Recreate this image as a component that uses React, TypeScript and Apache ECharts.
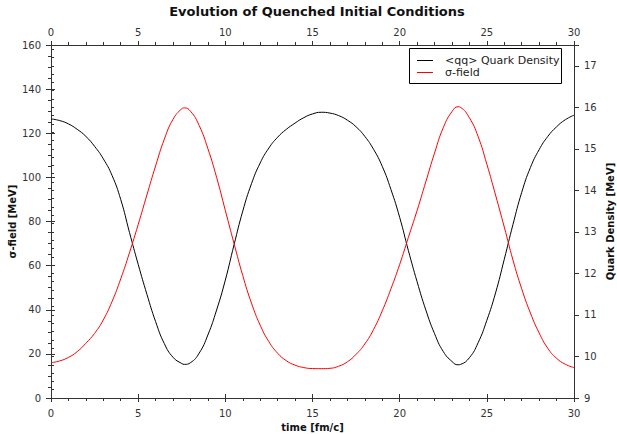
import React, { useEffect, useRef } from 'react';
import * as echarts from 'echarts';

const chartTitle = 'Evolution of Quenched Initial Conditions';
const xName = 'time [fm/c]';
const yLeftName = 'σ-field [MeV]';
const yRightName = 'Quark Density [MeV]';
const seriesNames = ['<qq> Quark Density', 'σ-field'];
const xTicks = [0, 30, 5];
const leftTicks = [0, 160, 20];
const rightTicks = [9, 17.5, 1];

// time samples [fm/c] (every 0.5, plus the turning points at 7.65 and 23.35)
const times = [
  0, 0.5, 1, 1.5, 2, 2.5, 3, 3.5, 4, 4.5,
  5, 5.5, 6, 6.5, 7, 7.5, 7.65, 8, 8.5, 9, 9.5,
  10, 10.5, 11, 11.5, 12, 12.5, 13, 13.5, 14, 14.5,
  15, 15.5, 16, 16.5, 17, 17.5, 18, 18.5, 19, 19.5,
  20, 20.5, 21, 21.5, 22, 22.5, 23, 23.35, 23.5, 24, 24.5,
  25, 25.5, 26, 26.5, 27, 27.5, 28, 28.5, 29, 29.5,
  30,
];

// Quark density (right axis)
const quarkDensity = [
  15.72, 15.68, 15.60, 15.47, 15.30, 15.06, 14.76, 14.36, 13.78, 12.99,
  12.22, 11.50, 10.84, 10.31, 9.98, 9.83, 9.81, 9.85, 10.08, 10.52, 11.12,
  11.84, 12.69, 13.50, 14.16, 14.66, 15.02, 15.28, 15.47, 15.62, 15.75,
  15.84, 15.88, 15.86, 15.80, 15.69, 15.53, 15.30, 14.99, 14.58, 14.02,
  13.35, 12.55, 11.80, 11.12, 10.55, 10.12, 9.88, 9.80, 9.81, 9.97, 10.33,
  10.87, 11.53, 12.34, 13.18, 13.95, 14.55, 14.98, 15.30, 15.53, 15.70,
  15.81,
];

// σ-field (left axis)
const sigmaField = [
  16.0, 16.8, 18.4, 21.0, 24.8, 29.3, 35.4, 43.7, 54.0, 65.8,
  78.6, 92.0, 105.2, 117.3, 126.3, 131.1, 131.5, 130.0, 123.5, 113.0, 100.0,
  85.0, 70.0, 55.5, 43.0, 33.0, 25.5, 20.3, 16.9, 14.9, 13.8,
  13.35, 13.3, 13.45, 14.4, 16.4, 19.8, 24.5, 31.0, 39.5, 49.5,
  60.5, 72.8, 85.0, 98.0, 111.0, 122.5, 129.8, 132.0, 131.7, 127.0, 118.5,
  106.0, 92.0, 77.5, 62.5, 49.5, 38.5, 29.5, 22.5, 18.0, 15.3,
  13.8,
];

const FONT = 'DejaVu Sans';
const AXIS_COLOR = '#333';
const LABEL_COLOR = '#333';

export default function App() {
  const ref = useRef<HTMLDivElement>(null);

  useEffect(() => {
    if (!ref.current) return;
    const chart = echarts.init(ref.current, undefined, { renderer: 'svg' });

    const baseX = {
      type: 'value',
      min: xTicks[0],
      max: xTicks[1],
      interval: xTicks[2],
      splitLine: { show: false },
    };
    const inside = {
      axisLine: { show: false },
      axisLabel: { show: false },
      axisTick: { show: true, inside: true, length: 4, lineStyle: { color: AXIS_COLOR } },
      minorTick: { show: false },
      splitLine: { show: false },
    };
    const labelStyle = { color: LABEL_COLOR, fontFamily: FONT, fontSize: 10 };
    const nameStyle = { color: '#111', fontFamily: FONT, fontSize: 10, fontWeight: 'bold' };

    const option: any = {
      animation: false,
      backgroundColor: '#fff',
      title: {
        text: chartTitle,
        left: 312,
        textAlign: 'center',
        top: 0,
        textStyle: { fontFamily: FONT, fontSize: 13, fontWeight: 'bold', color: '#111' },
      },
      grid: { left: 51, right: 43, top: 45, bottom: 36, containLabel: false, outerBoundsMode: 'none' },
      xAxis: [
        {
          ...baseX,
          position: 'bottom',
          name: xName,
          nameLocation: 'middle',
          nameGap: 24,
          nameMoveOverlap: false,
          nameTextStyle: nameStyle,
          axisLine: { show: true, onZero: false, lineStyle: { color: AXIS_COLOR, width: 1 } },
          axisTick: { show: true, length: 4, lineStyle: { color: AXIS_COLOR } },
          minorTick: { show: true, splitNumber: 5, length: 3, lineStyle: { color: AXIS_COLOR } },
          axisLabel: { ...labelStyle, margin: 10 },
        },
        {
          ...baseX,
          position: 'top',
          axisLine: { show: true, onZero: false, lineStyle: { color: AXIS_COLOR, width: 1 } },
          axisTick: { show: true, length: 4, lineStyle: { color: AXIS_COLOR } },
          minorTick: { show: true, splitNumber: 5, length: 3, lineStyle: { color: AXIS_COLOR } },
          axisLabel: { ...labelStyle, margin: 8 },
        },
        { ...baseX, position: 'bottom', ...inside },
        { ...baseX, position: 'top', ...inside },
      ],
      yAxis: [
        {
          type: 'value',
          position: 'left',
          min: leftTicks[0],
          max: leftTicks[1],
          interval: leftTicks[2],
          name: yLeftName,
          nameLocation: 'middle',
          nameGap: 34,
          nameMoveOverlap: false,
          nameTextStyle: nameStyle,
          axisLine: { show: true, onZero: false, lineStyle: { color: AXIS_COLOR, width: 1 } },
          axisTick: { show: true, length: 5, lineStyle: { color: AXIS_COLOR } },
          minorTick: { show: true, splitNumber: 4, length: 3, lineStyle: { color: AXIS_COLOR } },
          axisLabel: { ...labelStyle, margin: 10 },
          splitLine: { show: false },
        },
        {
          type: 'value',
          position: 'right',
          min: rightTicks[0],
          max: rightTicks[1],
          interval: rightTicks[2],
          name: yRightName,
          nameLocation: 'middle',
          nameGap: 31,
          nameMoveOverlap: false,
          nameTextStyle: nameStyle,
          axisLine: { show: true, onZero: false, lineStyle: { color: AXIS_COLOR, width: 1 } },
          axisTick: { show: true, length: 5, lineStyle: { color: AXIS_COLOR } },
          minorTick: { show: false },
          axisLabel: {
            ...labelStyle,
            margin: 10,
            formatter: (v: number) => (Number.isInteger(v) ? String(v) : ''),
          },
          splitLine: { show: false },
        },
        {
          type: 'value',
          position: 'right',
          min: rightTicks[0],
          max: rightTicks[1],
          interval: 0.2,
          axisLine: { show: false },
          axisLabel: { show: false },
          axisTick: { show: true, length: 3, lineStyle: { color: AXIS_COLOR } },
          splitLine: { show: false },
        },
        {
          type: 'value',
          position: 'left',
          min: leftTicks[0],
          max: leftTicks[1],
          interval: leftTicks[2],
          ...inside,
        },
        {
          type: 'value',
          position: 'right',
          min: rightTicks[0],
          max: 17,
          interval: rightTicks[2],
          ...inside,
        },
      ],
      graphic: [
        {
          type: 'rect',
          shape: { x: 409.5, y: 48.5, width: 152, height: 35 },
          style: { fill: '#fff', stroke: '#000', lineWidth: 1 },
          z: 100,
        },
        {
          type: 'line',
          shape: { x1: 417, y1: 60.5, x2: 433, y2: 60.5 },
          style: { stroke: '#000', lineWidth: 1 },
          z: 101,
        },
        {
          type: 'text',
          x: 445,
          y: 60.5,
          style: { text: seriesNames[0], fill: '#222', font: `11px "${FONT}"`, verticalAlign: 'middle', textVerticalAlign: 'middle' },
          z: 101,
        },
        {
          type: 'line',
          shape: { x1: 417, y1: 72.5, x2: 433, y2: 72.5 },
          style: { stroke: '#ff0000', lineWidth: 1 },
          z: 101,
        },
        {
          type: 'text',
          x: 445,
          y: 72.5,
          style: { text: seriesNames[1], fill: '#222', font: `11px "${FONT}"`, verticalAlign: 'middle', textVerticalAlign: 'middle' },
          z: 101,
        },
      ],
      series: [
        {
          name: seriesNames[0],
          type: 'line',
          xAxisIndex: 0,
          yAxisIndex: 1,
          data: times.map((t, i) => [t, quarkDensity[i]]),
          showSymbol: false,
          smooth: 0.5,
          lineStyle: { color: '#000', width: 1 },
          itemStyle: { color: '#000' },
        },
        {
          name: seriesNames[1],
          type: 'line',
          xAxisIndex: 0,
          yAxisIndex: 0,
          data: times.map((t, i) => [t, sigmaField[i]]),
          showSymbol: false,
          smooth: 0.5,
          lineStyle: { color: '#ff0000', width: 1 },
          itemStyle: { color: '#ff0000' },
        },
      ],
    };

    chart.setOption(option);
    return () => chart.dispose();
  }, []);

  return <div ref={ref} style={{ width: 617, height: 434, position: 'absolute', left: 0, top: 0 }} />;
}
